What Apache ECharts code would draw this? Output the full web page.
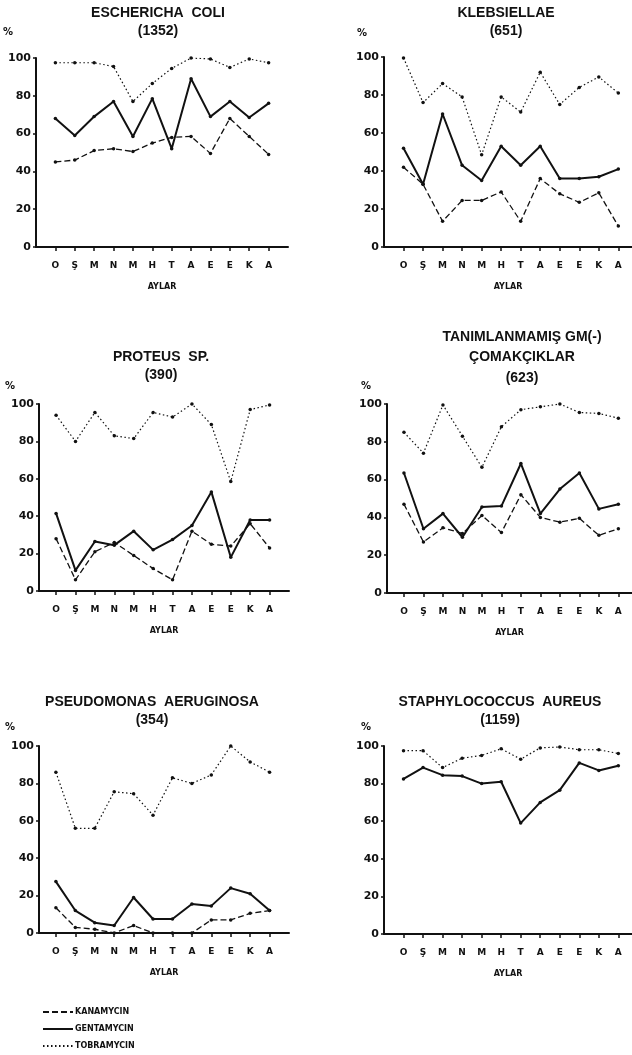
<!DOCTYPE html>
<html>
<head>
<meta charset="utf-8">
<script src="https://cdn.jsdelivr.net/npm/echarts@6/dist/echarts.min.js"></script>
<style>
html,body{margin:0;padding:0;background:#fff}
#chart{width:632px;height:1055px}
</style>
</head>
<body>
<div id="chart"></div>
<script>
// aylar (months) and antibiotics
var months = ['O', 'Ş', 'M', 'N', 'M', 'H', 'T', 'A', 'E', 'E', 'K', 'A'];
var drugs = ['KANAMYCIN', 'GENTAMYCIN', 'TOBRAMYCIN'];

// % duyarlilik, one array per organism / drug
var ecoliKan = [45, 46, 51, 52, 50.5, 55, 58, 58.5, 49.5, 68, 58.5, 49];
var ecoliGen = [68, 59, 69, 77, 58.5, 78.5, 52, 89, 69, 77, 68.5, 76];
var ecoliTob = [97.5, 97.5, 97.5, 95.5, 77, 86.5, 94.5, 100, 99.5, 95, 99.5, 97.5];

var klebKan = [42, 33, 13.5, 24.5, 24.5, 29, 13.5, 36, 28, 23.5, 28.5, 11];
var klebGen = [52, 33, 70, 43, 35, 53, 43, 53, 36, 36, 37, 41];
var klebTob = [99.5, 76, 86, 79, 48.5, 79, 71, 92, 75, 84, 89.5, 81];

var protKan = [28, 6, 21, 26, 19, 12, 6, 32, 25, 24, 36, 23];
var protGen = [41.5, 11, 26.5, 24.5, 32, 22, 27.5, 35, 53, 18, 38, 38];
var protTob = [94, 80, 95.5, 83, 81.5, 95.5, 93, 100, 89, 58.5, 97, 99.5];

var tanKan = [47, 27, 34.5, 31.5, 41, 32, 52, 40, 37.5, 39.5, 30.5, 34];
var tanGen = [63.5, 34, 42, 29.5, 45.5, 46, 68.5, 42, 55, 63.5, 44.5, 47];
var tanTob = [85, 74, 99.5, 83, 66.5, 88, 97, 98.5, 100, 95.5, 95, 92.5];

var pseKan = [13.5, 3, 2, 0, 4, 0, 0, 0, 7, 7, 10.5, 12];
var pseGen = [27.5, 12, 5.5, 4, 19, 7.5, 7.5, 15.5, 14.5, 24, 21, 12];
var pseTob = [86, 56, 56, 75.5, 74.5, 63, 83, 80, 84.5, 100, 91.5, 86];

var staGen = [82.5, 88.5, 84.5, 84, 80, 81, 59, 70, 76.5, 91, 87, 89.5];
var staTob = [97.5, 97.5, 88.5, 93.5, 95, 98.5, 93, 99, 99.5, 98, 98, 96];

// panel layout (pixels)
var panels = [
	{title: ['ESCHERICHA  COLI', '(1352)'], tx: 158, ty: 13, px: 8, py: 32,
	 grid: {left: 36, top: 58, width: 252, height: 189}, min: -1, max: 12,
	 series: [ecoliKan, ecoliGen, ecoliTob]},
	{title: ['KLEBSIELLAE', '(651)'], tx: 506, ty: 13, px: 362, py: 33,
	 grid: {left: 384, top: 57, width: 248, height: 190}, min: -1, max: 11.7,
	 series: [klebKan, klebGen, klebTob]},
	{title: ['PROTEUS  SP.', '(390)'], tx: 161, ty: 357, px: 10, py: 386,
	 grid: {left: 39, top: 404, width: 250, height: 187}, min: -0.88, max: 12,
	 series: [protKan, protGen, protTob]},
	{title: ['TANIMLANMAMIŞ GM(-)', 'ÇOMAKÇIKLAR', '(623)'], tx: 522, ty: 337, px: 366, py: 386,
	 grid: {left: 387, top: 404, width: 245, height: 189}, min: -0.87, max: 11.7,
	 series: [tanKan, tanGen, tanTob]},
	{title: ['PSEUDOMONAS  AERUGINOSA', '(354)'], tx: 152, ty: 702, px: 10, py: 727,
	 grid: {left: 39, top: 746, width: 250, height: 187}, min: -0.87, max: 12,
	 series: [pseKan, pseGen, pseTob]},
	{title: ['STAPHYLOCOCCUS  AUREUS', '(1159)'], tx: 500, ty: 702, px: 366, py: 727,
	 grid: {left: 384, top: 746, width: 248, height: 188}, min: -1, max: 11.7,
	 series: [null, staGen, staTob]}
];

var lineStyles = [
	{color: '#111', width: 1.3, type: [6, 3]},   // kanamycin
	{color: '#111', width: 2, type: 'solid'},    // gentamycin
	{color: '#111', width: 1.2, type: [1.5, 2.5]} // tobramycin
];

var font = 'DejaVu Sans';
var monthIdx = months.map(function(m, i){ return i; });

function $extend(a, b){ for(var key in b){ a[key] = b[key]; } return a; }

var grids = [], xAxes = [], yAxes = [], series = [], graphics = [];
panels.forEach(function(p, k){
	grids.push($extend({outerBoundsMode: 'none', containLabel: false}, p.grid));
	xAxes.push({
		type: 'value', gridIndex: k, min: p.min, max: p.max,
		name: 'AYLAR', nameLocation: 'middle', nameGap: 36,
		nameTextStyle: {fontFamily: font, fontWeight: 'bold', fontSize: 8, color: '#111'},
		axisLine: {onZero: false, lineStyle: {color: '#111', width: 2}},
		axisTick: {customValues: monthIdx, length: 4, lineStyle: {color: '#111', width: 1.5}},
		axisLabel: {customValues: monthIdx, margin: 14, fontFamily: font, fontWeight: 'bold', fontSize: 9, color: '#111',
			formatter: function(v){ return months[Math.round(v)]; }},
		splitLine: {show: false}
	});
	yAxes.push({
		type: 'value', gridIndex: k, min: 0, max: 100, interval: 20,
		axisLine: {show: true, onZero: false, lineStyle: {color: '#111', width: 2}},
		axisTick: {show: true, length: 3, lineStyle: {color: '#111', width: 1.5}},
		axisLabel: {margin: 5, fontFamily: font, fontWeight: 'bold', fontSize: 11, color: '#111'},
		splitLine: {show: false}
	});
	p.series.forEach(function(vals, d){
		if(!vals) return;
		series.push({
			name: drugs[d], type: 'line', xAxisIndex: k, yAxisIndex: k,
			data: vals.map(function(v, i){ return [i, v]; }),
			symbol: 'circle', symbolSize: 3.5,
			itemStyle: {color: '#111'},
			lineStyle: lineStyles[d],
			silent: true
		});
	});
	// basliklar
	p.title.forEach(function(t, j){
		graphics.push({type: 'text', x: p.tx, y: p.ty + j * (p.title.length > 2 ? 20.5 : 18.5),
			style: {text: t, fill: '#111', font: 'bold 14px "Liberation Sans"', textAlign: 'center', textVerticalAlign: 'middle'}});
	});
	graphics.push({type: 'text', x: p.px, y: p.py,
		style: {text: '%', fill: '#111', font: 'bold 10px "DejaVu Sans"', textAlign: 'center', textVerticalAlign: 'middle'}});
});

var chart = echarts.init(document.getElementById('chart'));
chart.setOption({
	animation: false,
	backgroundColor: '#fff',
	grid: grids,
	xAxis: xAxes,
	yAxis: yAxes,
	series: series,
	graphic: graphics,
	legend: {
		data: drugs, orient: 'vertical', left: 37, top: 1003,
		itemWidth: 30, itemHeight: 8, itemGap: 9,
		itemStyle: {opacity: 0},
		textStyle: {fontFamily: font, fontWeight: 'bold', fontSize: 8, color: '#111', padding: [0, 0, 0, -3]}
	}
});
</script>
</body>
</html>
